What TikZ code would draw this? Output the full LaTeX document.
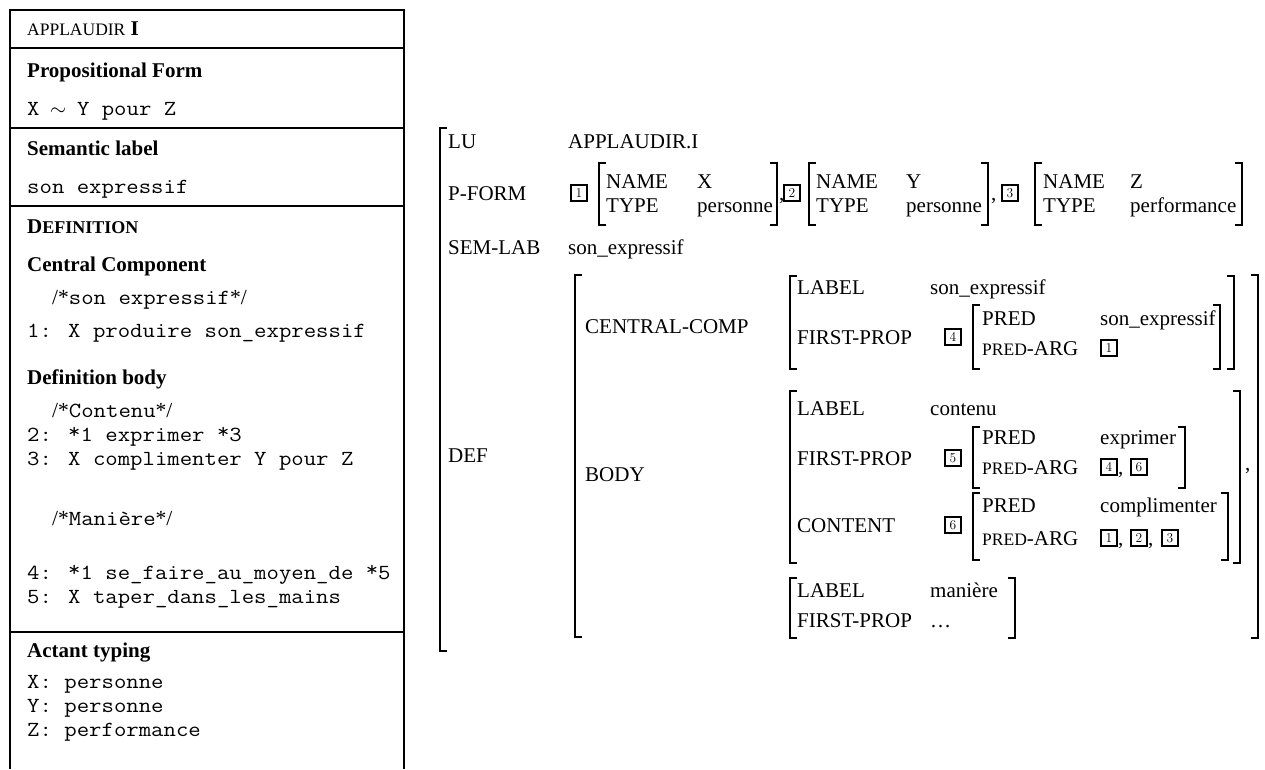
\documentclass[tikz,border=0pt]{standalone}
\usepackage{fontspec}
\newfontfamily\tms{Liberation Serif}
\setmonofont[FakeStretch=1.12]{Latin Modern Mono}
\newcommand\fs[1]{\fontsize{#1}{#1}\selectfont}
\newcommand\rast{\raisebox{3pt}{*}}
\newcommand\LB[3]{\draw[brk] (#1+7,#2) -- (#1,#2) -- (#1,#3) -- (#1+7,#3);}
\newcommand\RB[3]{\draw[brk] (#1-7,#2) -- (#1,#2) -- (#1,#3) -- (#1-7,#3);}
\begin{document}
\begin{tikzpicture}[x=1pt,y=-1pt,
  txt/.style={anchor=base west,inner sep=0pt,font=\tms\fs{21}},
  bld/.style={anchor=base west,inner sep=0pt,font=\tms\bfseries\fs{21}},
  mono/.style={anchor=base west,inner sep=0pt,font=\ttfamily\fs{21.5}},
  nbox/.style={draw,line width=2.1pt,minimum size=16pt,inner sep=0pt,font=\fs{13.5}},
  brk/.style={line width=1.9pt},
  frame/.style={line width=2.2pt}]
\useasboundingbox (0,0) rectangle (1265,769);
% ---------- left box ----------
\draw[frame] (10,769) -- (10,10) -- (404,10) -- (404,769);
\foreach \yy in {48,128,206,632} \draw[frame] (10,\yy) -- (404,\yy);
\node[txt] (title) at (27,35) {{\fs{17.5}APPLAUDIR} \textbf{I}};
\node[bld] (pfh) at (27,77) {Propositional Form};
\node[mono] (pf) at (27,115) {X \makebox[12.6pt]{$\sim$} Y pour Z};
\node[bld] (slh) at (27,155) {Semantic label};
\node[mono] (sl) at (27,193) {son expressif};
\node[bld] (defh) at (27,233) {D{\fs{18}EFINITION}};
\node[bld] (cch) at (27,271) {Central Component};
\node[mono] (c0) at (52,304) {{\tms /*}son expressif{\tms */}};
\node[mono] (n1) at (27,337) {1:};
\node[mono] (l1) at (68,337) {X produire son\_expressif};
\node[bld] (dbh) at (27,384) {Definition body};
\node[mono] (c1) at (52,417) {{\tms /*}Contenu{\tms */}};
\node[mono] (n2) at (27,441) {2:};
\node[mono] (l2) at (68,441) {\rast1 exprimer \rast3};
\node[mono] (n3) at (27,465) {3:};
\node[mono] (l3) at (68,465) {X complimenter Y pour Z};
\node[mono] (c2) at (52,525) {{\tms /*}Manière{\tms */}};
\node[mono] (n4) at (27,579) {4:};
\node[mono] (l4) at (68,579) {\rast1 se\_faire\_au\_moyen\_de \rast5};
\node[mono] (n5) at (27,603) {5:};
\node[mono] (l5) at (68,603) {X taper\_dans\_les\_mains};
\node[bld] (ath) at (27,657) {Actant typing};
\node[mono] (a1) at (27,688) {X: personne};
\node[mono] (a2) at (27,712) {Y: personne};
\node[mono] (a3) at (27,736) {Z: performance};
% ---------- right AVM ----------
\LB{440}{128}{651}
\node[txt] (lu) at (448,148) {LU};
\node[txt] (luv) at (568,148) {APPLAUDIR.I};
\node[txt] (pform) at (448,200) {P-FORM};
\node[nbox] (p1) at (579,193) {1};
\LB{599}{163}{225}
\node[txt] at (606,188) {NAME}; \node[txt] at (697,188) {X};
\node[txt] at (606,212) {TYPE}; \node[txt] at (697,212) {personne};
\RB{777}{163}{225}
\node[txt] at (779,200) {,};
\node[nbox] (p2) at (792,193) {2};
\LB{809}{163}{225}
\node[txt] at (816,188) {NAME}; \node[txt] at (906,188) {Y};
\node[txt] at (816,212) {TYPE}; \node[txt] at (906,212) {personne};
\RB{988}{163}{225}
\node[txt] at (991,200) {,};
\node[nbox] (p3) at (1010,193) {3};
\LB{1035}{163}{225}
\node[txt] at (1043,188) {NAME}; \node[txt] at (1130,188) {Z};
\node[txt] at (1043,212) {TYPE}; \node[txt] at (1130,212) {performance};
\RB{1242}{163}{225}
\node[txt] (semlab) at (448,254) {SEM-LAB};
\node[txt] (semv) at (568,254) {son\_expressif};
% DEF
\node[txt] (def) at (448,462) {DEF};
\LB{575}{275}{637}
\node[txt] (cc) at (585,333) {CENTRAL-COMP};
\LB{790}{276}{369}
\node[txt] at (797,294) {LABEL}; \node[txt] at (930,294) {son\_expressif};
\node[txt] at (797,344) {FIRST-PROP};
\node[nbox] (b4) at (953,337) {4};
\LB{973}{305}{369}
\node[txt] at (982,325) {PRED}; \node[txt] at (1100,325) {son\_expressif};
\node[txt] at (982,355) {{\fs{17.5}PRED}-ARG};
\node[nbox] at (1109,348) {1};
\RB{1220}{305}{369}
\RB{1234}{276}{369}
% BODY
\node[txt] (body) at (585,481) {BODY};
\LB{790}{391}{563}
\node[txt] at (797,415) {LABEL}; \node[txt] at (930,415) {contenu};
\node[txt] at (797,465) {FIRST-PROP};
\node[nbox] (b5) at (953,458) {5};
\LB{973}{427}{488}
\node[txt] at (982,444) {PRED}; \node[txt] at (1100,444) {exprimer};
\node[txt] at (982,474) {{\fs{17.5}PRED}-ARG};
\node[nbox] at (1109,467) {4};
\node[txt] at (1118,474) {,};
\node[nbox] at (1139,467) {6};
\RB{1185}{427}{488}
\node[txt] at (797,532) {CONTENT};
\node[nbox] (b6) at (953,525) {6};
\LB{973}{493}{560}
\node[txt] at (982,512) {PRED}; \node[txt] at (1100,512) {complimenter};
\node[txt] at (982,545) {{\fs{17.5}PRED}-ARG};
\node[nbox] at (1109,538) {1};
\node[txt] at (1118,545) {,};
\node[nbox] at (1139,538) {2};
\node[txt] at (1148,545) {,};
\node[nbox] at (1170,538) {3};
\RB{1228}{493}{560}
\RB{1240}{391}{563}
\node[txt] at (1245,470) {,};
\LB{790}{578}{638}
\node[txt] at (797,597) {LABEL}; \node[txt] at (930,597) {manière};
\node[txt] at (797,627) {FIRST-PROP}; \node[txt] at (930,627) {\dots};
\RB{1015}{578}{638}
\RB{1258}{275}{638}
\end{tikzpicture}
\end{document}
